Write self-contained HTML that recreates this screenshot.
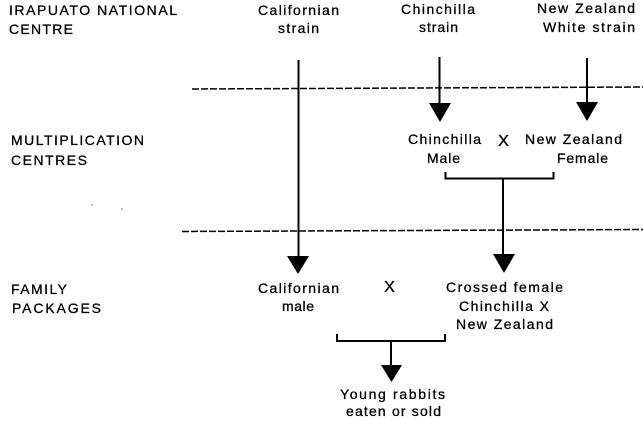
<!DOCTYPE html>
<html>
<head>
<meta charset="utf-8">
<style>
html,body{margin:0;padding:0;background:#fff;}
svg{display:block;}
text{font-family:"Liberation Sans",sans-serif;font-size:14px;fill:#000;stroke:#000;stroke-width:.3px;}
text.x{font-size:16px;}
</style>
</head>
<body>
<svg width="643" height="427" viewBox="0 0 643 427" xmlns="http://www.w3.org/2000/svg">
<rect width="643" height="427" fill="#fff"/>
<g stroke="#000" stroke-width="1.5" fill="none" stroke-dasharray="7 2">
<line x1="192" y1="89" x2="643" y2="87"/>
<line x1="182" y1="231.5" x2="643" y2="229.5"/>
</g>
<g stroke="#000" stroke-width="2" fill="none">
<line x1="298.5" y1="60" x2="298.5" y2="258"/>
<line x1="439.5" y1="57" x2="439.5" y2="105"/>
<line x1="587" y1="58" x2="587" y2="104"/>
<path d="M445.5 172V178.5H553.5V172"/>
<line x1="503" y1="178" x2="503" y2="256"/>
<path d="M337 334V341H445V334"/>
<line x1="391" y1="341" x2="391" y2="367"/>
</g>
<g fill="#000">
<polygon points="287,256 309,256 298,274"/>
<polygon points="429,103 451,103 440,122"/>
<polygon points="576,102 598,102 587,121"/>
<polygon points="493,254 515,254 504,273"/>
<polygon points="381,365 402,365 391.5,382"/>
<rect x="91.5" y="204.5" width="1" height="1"/>
<rect x="121.5" y="208.5" width="1" height="1"/>
</g>
<text x="9" y="15" textLength="168" lengthAdjust="spacing">IRAPUATO NATIONAL</text>
<text x="9" y="34" textLength="64" lengthAdjust="spacing">CENTRE</text>
<text x="11" y="145" textLength="133" lengthAdjust="spacing">MULTIPLICATION</text>
<text x="11" y="165" textLength="76" lengthAdjust="spacing">CENTRES</text>
<text x="11" y="294" textLength="56" lengthAdjust="spacing">FAMILY</text>
<text x="12" y="313" textLength="89" lengthAdjust="spacing">PACKAGES</text>
<text x="258" y="15" textLength="81" lengthAdjust="spacing">Californian</text>
<text x="278" y="33" textLength="41" lengthAdjust="spacing">strain</text>
<text x="401" y="14" textLength="74" lengthAdjust="spacing">Chinchilla</text>
<text x="419" y="32" textLength="39" lengthAdjust="spacing">strain</text>
<text x="537" y="13" textLength="98" lengthAdjust="spacing">New Zealand</text>
<text x="543" y="32" textLength="92" lengthAdjust="spacing">White strain</text>
<text x="408" y="144" textLength="73" lengthAdjust="spacing">Chinchilla</text>
<text x="427" y="163" textLength="33" lengthAdjust="spacing">Male</text>
<text class="x" x="498" y="146" textLength="11" lengthAdjust="spacingAndGlyphs">X</text>
<text x="525" y="144" textLength="97" lengthAdjust="spacing">New Zealand</text>
<text x="557" y="163" textLength="51" lengthAdjust="spacing">Female</text>
<text x="446" y="292" textLength="117" lengthAdjust="spacing">Crossed female</text>
<text x="459" y="311" textLength="90" lengthAdjust="spacing">Chinchilla X</text>
<text x="456" y="329" textLength="97" lengthAdjust="spacing">New Zealand</text>
<text class="x" x="384" y="292" textLength="11" lengthAdjust="spacingAndGlyphs">X</text>
<text x="258" y="293" textLength="81" lengthAdjust="spacing">Californian</text>
<text x="282" y="311" textLength="32" lengthAdjust="spacing">male</text>
<text x="340" y="399" textLength="105" lengthAdjust="spacing">Young rabbits</text>
<text x="346" y="416" textLength="95" lengthAdjust="spacing">eaten or sold</text>
</svg>
</body>
</html>
